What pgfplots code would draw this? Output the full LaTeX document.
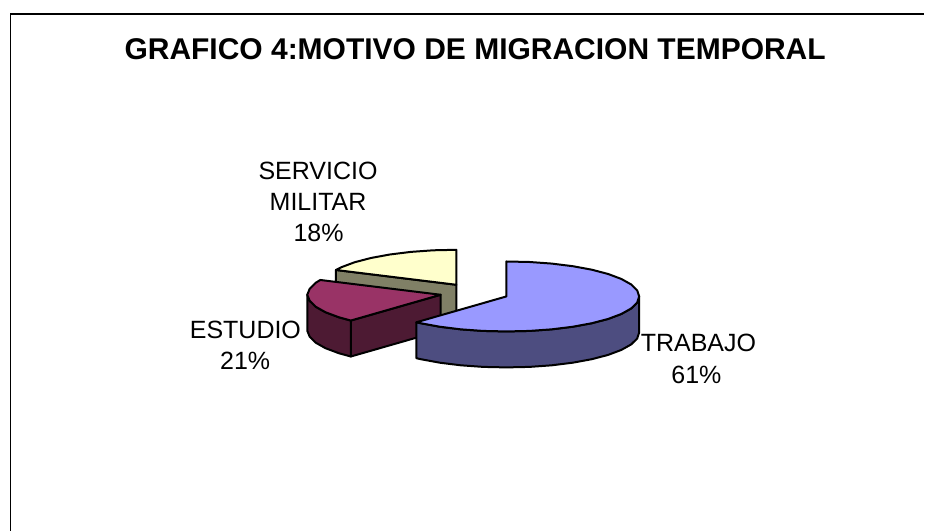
\documentclass[border=0pt]{standalone}
\usepackage{fontspec}
\setmainfont{Liberation Sans}
\usepackage{pgfplots}
\pgfplotsset{compat=1.18}
\definecolor{trabajoTop}{HTML}{9999FF}
\definecolor{trabajoSide}{HTML}{4D4D80}
\definecolor{estudioTop}{HTML}{993366}
\definecolor{estudioSide}{HTML}{4D1A33}
\definecolor{servicioTop}{HTML}{FFFFCC}
\definecolor{servicioSide}{HTML}{808066}
\tikzset{
  slice/.style={draw=black, line width=2pt, line join=round},
  lab/.style={anchor=base, font=\fontsize{25}{31}\selectfont, text=black, inner sep=0pt},
}
\begin{document}
\begin{tikzpicture}
\begin{axis}[
  scale only axis, width=925pt, height=531pt,
  xmin=0, xmax=925, ymin=0, ymax=531, y dir=reverse,
  hide axis, clip=false,
]
% keep the whole page, hide axis drops it from the box
\path (axis cs:0,0) -- (axis cs:925,531);
% frame: only left and top show in the picture
\addplot[draw=black, line width=1.5pt] coordinates {(10.5,531) (10.5,14) (925,14)};

% SERVICIO MILITAR 18%
\addplot[slice, fill=servicioSide] coordinates {
  (336.2,270.2) (456.7,285) (456.7,321) (336.2,306.2)} -- cycle;
\addplot[slice, fill=servicioTop] coordinates {
  (456.7,285) (336.2,270.2) (341.5,267.5) (354.8,262.5) (371.2,258.2)
  (390.2,254.7) (411.2,252.1) (433.6,250.5) (456.7,250)} -- cycle;

% ESTUDIO 21%
\addplot[slice, fill=estudioSide] coordinates {
  (351.1,320.8) (441,295) (441,331) (351.1,356.8)} -- cycle;
\addplot[slice, fill=estudioSide] coordinates {
  (351.1,320.8) (339.1,317.5) (325.8,312.5) (316,307) (310,301.1) (307.5,295)
  (307.5,331) (310,337.1) (316,343) (325.8,348.5) (339.1,353.5) (351.1,356.8)} -- cycle;
\addplot[slice, fill=estudioTop] coordinates {
  (441,295) (351.1,320.8) (339.1,317.5) (325.8,312.5) (316,307) (310,301.1)
  (307.5,295) (310,288.9) (316,283) (320.5,280.2)} -- cycle;

% TRABAJO 61%
\addplot[slice, fill=trabajoSide] coordinates {
  (416.8,322.5) (421.2,323.5) (440.2,327) (461.2,329.6) (483.6,331.2) (506.7,331.7)
  (529.8,331.2) (552.2,329.6) (573.2,327) (592.2,323.5) (608.6,319.2) (621.9,314.2)
  (631.7,308.7) (637.7,302.8) (639.7,296.7)
  (639.7,332.7) (637.7,338.8) (631.7,344.7) (621.9,350.2) (608.6,355.2) (592.2,359.5)
  (573.2,363) (552.2,365.6) (529.8,367.2) (506.7,367.7) (483.6,367.2) (461.2,365.6)
  (440.2,363) (421.2,359.5) (416.8,358.5)} -- cycle;
\addplot[slice, fill=trabajoTop] coordinates {
  (506.7,296.7) (506.7,261.7) (529.8,262.2) (552.2,263.8) (573.2,266.4) (592.2,269.9)
  (608.6,274.2) (621.9,279.2) (631.7,284.7) (637.7,290.6) (639.7,296.7) (637.7,302.8)
  (631.7,308.7) (621.9,314.2) (608.6,319.2) (592.2,323.5) (573.2,327) (552.2,329.6)
  (529.8,331.2) (506.7,331.7) (483.6,331.2) (461.2,329.6) (440.2,327) (421.2,323.5)
  (416.8,322.5)} -- cycle;

% title and labels
\node[anchor=base, font=\bfseries\fontsize{30}{36}\selectfont, inner sep=0pt]
  at (axis cs:475.5,60) {GRAFICO 4:MOTIVO DE MIGRACION TEMPORAL};
\node[lab] at (axis cs:318.3,179.3) {SERVICIO};
\node[lab] at (axis cs:318.3,210.3) {MILITAR};
\node[lab] at (axis cs:318.8,241.6) {18\%};
\node[lab] at (axis cs:245.6,338.3) {ESTUDIO};
\node[lab] at (axis cs:245.4,370) {21\%};
\node[lab] at (axis cs:699,351.7) {TRABAJO};
\node[lab] at (axis cs:697,384) {61\%};
\end{axis}
\end{tikzpicture}
\end{document}
